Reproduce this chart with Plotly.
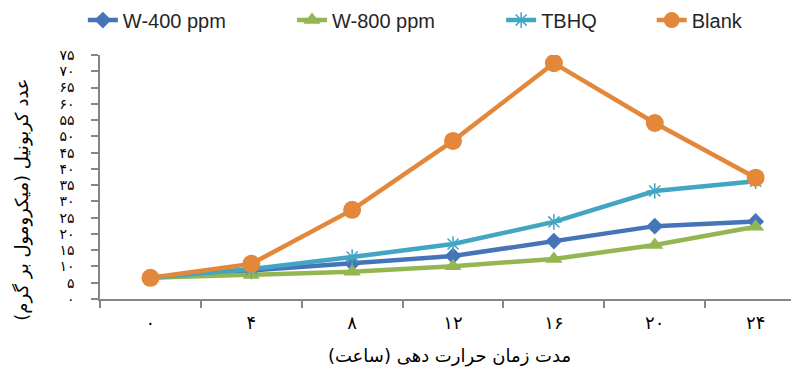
import plotly.graph_objects as go

hours = ["۰", "۴", "۸", "۱۲", "۱۶", "۲۰", "۲۴"]
w400 = [6.5, 8.6, 11.0, 13.2, 17.8, 22.4, 23.8]
w800 = [6.5, 7.4, 8.4, 10.1, 12.3, 16.6, 22.2]
tbhq = [6.5, 9.2, 12.9, 16.9, 23.7, 33.2, 36.2]
blank = [6.5, 10.8, 27.4, 48.6, 72.5, 54.1, 37.3]

y_ticks = list(range(0, 80, 5))
fa_digits = str.maketrans("0123456789", "۰۱۲۳۴۵۶۷۸۹")
y_ticktext = [str(v).translate(fa_digits) for v in y_ticks]

nb = "\u00a0"
series = [
    ("W-400 ppm" + nb * 11, w400, "#4574B8", dict(symbol="diamond", size=13)),
    ("W-800 ppm" + nb * 11, w800, "#93B651", dict(symbol="triangle-up", size=15)),
    ("TBHQ" + nb * 9, tbhq, "#42A6C2", dict(symbol="asterisk-open", size=13, line=dict(width=1.5, color="#42A6C2"))),
    ("Blank", blank, "#E3873A", dict(symbol="circle", size=18)),
]

fig = go.Figure()
for name, vals, color, marker in series:
    m = dict(color=color, **marker)
    if "line" not in m:
        m["line"] = dict(width=0)
    fig.add_trace(go.Scatter(
        x=hours, y=vals, name=name, mode="lines+markers",
        line=dict(color=color, width=4.5), marker=m,
    ))

axis_gray = "#868686"
fig.update_layout(
    width=791, height=363,
    margin=dict(l=92, r=0, t=47, b=72, autoexpand=False),
    plot_bgcolor="white", paper_bgcolor="white",
    font=dict(family="Liberation Sans", size=20, color="#000000"),
    showlegend=True,
    legend=dict(orientation="h", x=-0.0245, xanchor="left", y=1.143, yanchor="middle",
                font=dict(family="Liberation Sans", size=20, color="#262626"),
                bgcolor="rgba(0,0,0,0)", tracegroupgap=0),
    xaxis=dict(
        type="category", range=[-0.5, 6.43], tickson="boundaries", automargin=False,
        showline=True, linecolor=axis_gray, linewidth=1.5,
        ticks="outside", ticklen=7, tickcolor=axis_gray, tickwidth=1.5,
        showgrid=False, zeroline=False, ticklabelstandoff=7,
        tickfont=dict(family="DejaVu Sans", size=18, color="#000000"),
        title=dict(text="مدت زمان حرارت دهی (ساعت)", standoff=17,
                   font=dict(family="DejaVu Sans", size=18, color="#000000")),
    ),
    yaxis=dict(
        range=[0, 75], tickmode="array", tickvals=y_ticks, ticktext=y_ticktext, automargin=False,
        showline=True, linecolor=axis_gray, linewidth=1.5,
        ticks="outside", ticklen=7, tickcolor=axis_gray, tickwidth=1.5,
        showgrid=False, zeroline=False, ticklabelstandoff=14,
        tickfont=dict(family="DejaVu Sans", size=14, color="#000000"),
    ),
    annotations=[dict(
        text="عدد کربونیل (میکرومول بر گرم)", textangle=-90,
        xref="paper", yref="paper", x=-0.112, y=0.406, xanchor="center", yanchor="middle",
        showarrow=False, font=dict(family="DejaVu Sans", size=18, color="#000000"),
    )],
)

fig.write_html("out.html")
